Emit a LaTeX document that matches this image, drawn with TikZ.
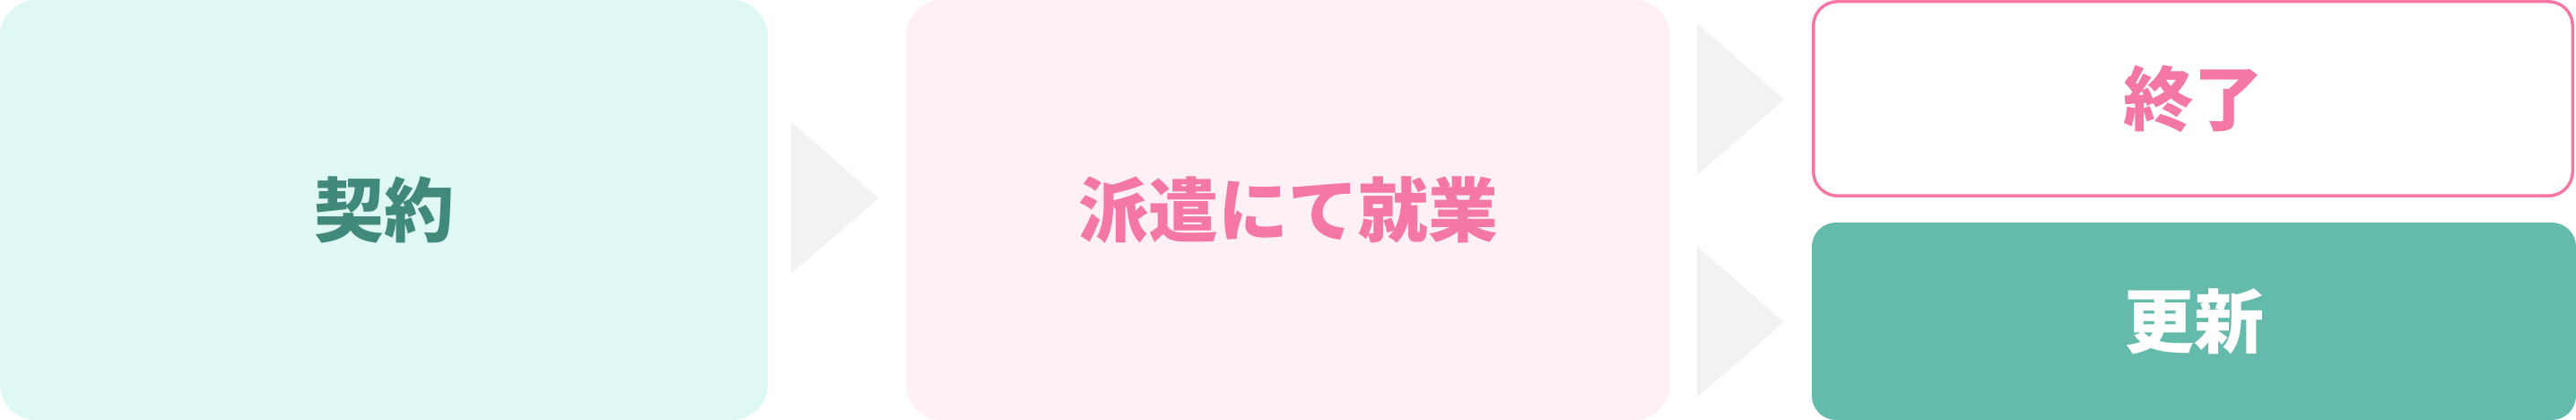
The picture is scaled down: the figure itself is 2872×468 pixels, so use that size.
\documentclass[tikz,border=0pt]{standalone}
\usepackage{fontspec}
\usepackage{tikz}
\usetikzlibrary{calc,positioning}
\newfontfamily\jpfont{Noto Sans CJK JP}
\definecolor{mintbg}{RGB}{224,248,244}
\definecolor{pinkbg}{RGB}{255,240,245}
\definecolor{pinkline}{RGB}{244,119,165}
\definecolor{tealbg}{RGB}{100,187,171}
\definecolor{darkteal}{RGB}{65,138,123}
\definecolor{arrowgray}{RGB}{242,242,242}

\begin{document}
\begin{tikzpicture}[x=1pt, y=1pt,
		stagebox/.style={inner sep=0pt, rounded corners=40pt, minimum height=468pt,
			font=\jpfont\bfseries\fontsize{78}{80}\selectfont},
		resultbox/.style={inner sep=0pt, rounded corners=27pt, minimum width=850pt, minimum height=220pt,
			font=\jpfont\bfseries\fontsize{78}{80}\selectfont},
		arrowtri/.style={fill=arrowgray}]
		\useasboundingbox (0,0) rectangle (2872,468);
		\node[stagebox, fill=mintbg, text=darkteal, minimum width=856pt] (contract) at (428,234){契約};
		\node[stagebox, fill=pinkbg, text=pinkline, minimum width=852pt] (dispatch) at (1436,234){派遣にて就業};
		\node[resultbox, draw=pinkline, line width=3.5pt, text=pinkline, minimum width=846.5pt, minimum height=216.5pt] (finish) at (2445,358){終了};
		\node[resultbox, fill=tealbg, text=white, minimum width=852pt] (renew) at (2446,110){更新};
		\fill[arrowtri] ($(contract.east)+(26,98)$) -- ($(contract.east)+(26,-71)$) -- ($(contract.east)+(123,13)$) -- cycle;
		\fill[arrowtri] ($(finish.west)+(-128,84)$) -- ($(finish.west)+(-128,-85)$) -- ($(finish.west)+(-31,-1)$) -- cycle;
		\fill[arrowtri] ($(renew.west)+(-128,84)$) -- ($(renew.west)+(-128,-85)$) -- ($(renew.west)+(-31,-1)$) -- cycle;
	\end{tikzpicture}
\end{document}
